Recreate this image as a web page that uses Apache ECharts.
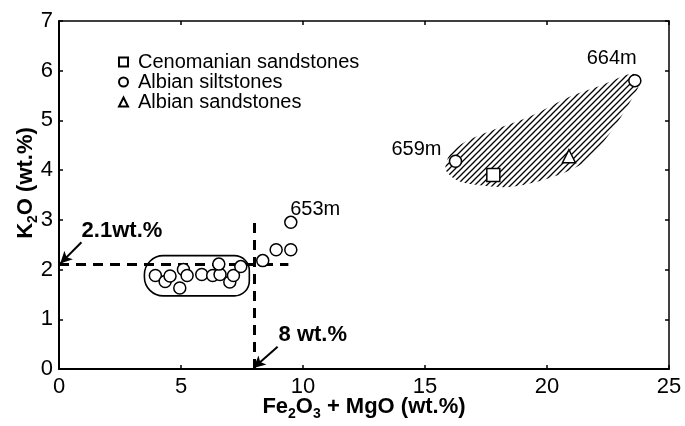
<!DOCTYPE html>
<html><head><meta charset="utf-8">
<script src="https://cdn.jsdelivr.net/npm/echarts@6/dist/echarts.min.js"></script>
<style>html,body{margin:0;padding:0;background:#fff}#c{width:685px;height:426px}</style>
</head><body><div id="c"></div>
<script>
// ---- data ----
const xTicks = [0, 5, 10, 15, 20, 25];
const yTicks = [0, 1, 2, 3, 4, 5, 6, 7];
const cenomanianSandstones = [[17.8, 3.9]];
const albianSiltstones = [
  [3.95, 1.88], [4.35, 1.76], [4.55, 1.87], [5.1, 2.0], [4.95, 1.63], [5.25, 1.88],
  [5.85, 1.9], [6.3, 1.88], [6.6, 1.9], [6.55, 2.11], [7.0, 1.75], [7.15, 1.88], [7.45, 2.06],
  [8.35, 2.18], [8.9, 2.4], [9.5, 2.4], [9.5, 2.95],
  [16.25, 4.18], [23.6, 5.8]
];
const albianSandstones = [[20.9, 4.28]];
const hatchOutline = [
  [15.85, 4.01], [16.3, 3.8], [16.85, 3.72], [18.45, 3.66], [20.1, 3.84], [21.6, 4.18],
  [22.55, 4.72], [23.5, 5.45], [23.85, 5.85], [23.45, 5.94], [22.3, 5.72], [20.95, 5.48],
  [19.3, 5.08], [17.65, 4.78], [16.55, 4.54], [16.0, 4.3]
];
const clusterBox = [[3.5, 1.47], [7.8, 2.28]];
const guideK2O = 2.1, guideK2OEnd = 9.4;
const guideFeMg = 8, guideFeMgEnd = 2.95;
const sampleLabels = ['653m', '659m', '664m'];
const sampleLabelAt = [[10.5, 3.2], [14.65, 4.42], [22.65, 6.24]];
const guideLabels = ['2.1wt.%', '8 wt.%'];
const guideLabelAt = [[2.58, 2.78], [10.4, 0.68]];
const arrows = [[[0.92, 2.55], [0.05, 2.12]], [[8.96, 0.45], [7.97, 0.02]]];

// ---- chart ----
const FONT = 'Liberation Sans';
const chart = echarts.init(document.getElementById('c'), null, {renderer: 'canvas'});

const T = 6;
const pc = document.createElement('canvas');
pc.width = T; pc.height = T;
const g = pc.getContext('2d');
g.fillStyle = '#fff'; g.fillRect(0, 0, T, T);
g.strokeStyle = '#000'; g.lineWidth = 1.3;
g.beginPath();
g.moveTo(-1, T + 1); g.lineTo(T + 1, -1);
g.moveTo(-1, 1); g.lineTo(1, -1);
g.moveTo(T - 1, T + 1); g.lineTo(T + 1, T - 1);
g.stroke();

const axisBase = {
  type: 'value',
  axisLine: {show: true, onZero: false, lineStyle: {color: '#000', width: 2}},
  axisTick: {show: true, inside: true, length: 4, lineStyle: {color: '#000', width: 1.5}},
  splitLine: {show: false}
};
const symStyle = {color: '#fff', borderColor: '#000', borderWidth: 1.5, opacity: 1};
const subRich = {s: {fontFamily: FONT, fontWeight: 'bold', fontSize: 14, color: '#000', verticalAlign: 'top', padding: [15, 0, 0, 0]}};

chart.setOption({
  animation: false,
  backgroundColor: '#fff',
  grid: {left: 59, right: 16, top: 21, bottom: 57, containLabel: false, outerBoundsMode: 'none'},
  legend: {
    orient: 'vertical', left: 118, top: 52, padding: 0, itemGap: 0,
    itemWidth: 9, itemHeight: 9,
    data: ['Cenomanian sandstones', 'Albian siltstones', 'Albian sandstones'],
    textStyle: {fontFamily: FONT, fontSize: 20, color: '#000', lineHeight: 20, padding: [0, 0, 0, 5]}
  },
  xAxis: [
    Object.assign({}, axisBase, {
      min: 0, max: 25, interval: 5, position: 'bottom',
      axisLabel: {color: '#000', fontSize: 22, fontFamily: FONT, margin: 7},
      name: 'Fe{s|2}O{s|3} + MgO (wt.%)', nameLocation: 'middle', nameGap: 23, nameMoveOverlap: false,
      nameTextStyle: {color: '#000', fontFamily: FONT, fontWeight: 'bold', fontSize: 22, rich: subRich}
    }),
    Object.assign({}, axisBase, {
      min: 0, max: 25, interval: 5, position: 'top',
      axisLine: {show: true, onZero: false, lineStyle: {color: '#000', width: 1.5}},
      axisLabel: {show: false}
    })
  ],
  yAxis: [
    Object.assign({}, axisBase, {
      min: 0, max: 7, interval: 1, position: 'left',
      axisLabel: {color: '#000', fontSize: 22, fontFamily: FONT, margin: 6},
      name: 'K{s|2}O (wt.%)', nameLocation: 'middle', nameGap: 19, nameMoveOverlap: false,
      nameTextStyle: {color: '#000', fontFamily: FONT, fontWeight: 'bold', fontSize: 22, padding: [0, 0, 0, 24], rich: subRich}
    }),
    Object.assign({}, axisBase, {
      min: 0, max: 7, interval: 1, position: 'right',
      axisLine: {show: true, onZero: false, lineStyle: {color: '#000', width: 1.5}},
      axisLabel: {show: false}
    })
  ],
  series: [
    {
      type: 'custom', name: 'hatch', z: 1, silent: true,
      data: [[hatchOutline[0][0], hatchOutline[0][1]]],
      renderItem: function (params, api) {
        return {
          type: 'polygon',
          shape: {points: hatchOutline.map(p => api.coord(p)), smooth: 0.3},
          style: {fill: {image: pc, repeat: 'repeat'}, stroke: null}
        };
      }
    },
    {
      type: 'custom', name: 'cluster', z: 2, silent: true,
      data: [[clusterBox[0][0], clusterBox[0][1]]],
      renderItem: function (params, api) {
        const a = api.coord([clusterBox[0][0], clusterBox[1][1]]);
        const b = api.coord([clusterBox[1][0], clusterBox[0][1]]);
        return {
          type: 'rect',
          shape: {x: a[0], y: a[1], width: b[0] - a[0], height: b[1] - a[1], r: [19, 15, 15, 19]},
          style: {fill: null, stroke: '#000', lineWidth: 1.6}
        };
      }
    },
    {
      type: 'scatter', name: 'guides', z: 3, data: [], silent: true,
      markLine: {
        silent: true, animation: false, symbol: ['none', 'none'],
        label: {show: false},
        lineStyle: {color: '#000', width: 3, type: [10, 7], opacity: 1},
        data: [
          [{coord: [0, guideK2O]}, {coord: [guideK2OEnd, guideK2O]}],
          [{coord: [guideFeMg, 0]}, {coord: [guideFeMg, guideFeMgEnd]}]
        ]
      }
    },
    {
      type: 'scatter', name: 'arrows', z: 3, data: [], silent: true,
      markLine: {
        silent: true, animation: false, symbol: ['none', 'arrow'], symbolSize: [9, 12],
        label: {show: false},
        itemStyle: {color: '#000', opacity: 1},
        lineStyle: {color: '#000', width: 2, type: 'solid', opacity: 1},
        data: arrows.map(a => [{coord: a[0]}, {coord: a[1]}])
      }
    },
    {
      type: 'scatter', name: 'Cenomanian sandstones', z: 5, symbol: 'rect', symbolSize: 13,
      itemStyle: symStyle, data: cenomanianSandstones
    },
    {
      type: 'scatter', name: 'Albian siltstones', z: 5, symbol: 'circle', symbolSize: 12,
      itemStyle: symStyle, data: albianSiltstones
    },
    {
      type: 'scatter', name: 'Albian sandstones', z: 5, symbol: 'triangle', symbolSize: 13,
      itemStyle: symStyle, data: albianSandstones
    },
    {
      type: 'scatter', name: 'sampleText', z: 6, symbolSize: 0, silent: true,
      itemStyle: {opacity: 1},
      data: sampleLabels.map((t, i) => ({name: t, value: sampleLabelAt[i]})),
      label: {show: true, position: 'inside', formatter: '{b}', color: '#000', opacity: 1, fontFamily: FONT, fontSize: 20}
    },
    {
      type: 'scatter', name: 'guideText', z: 6, symbolSize: 0, silent: true,
      itemStyle: {opacity: 1},
      data: guideLabels.map((t, i) => ({name: t, value: guideLabelAt[i]})),
      label: {show: true, position: 'inside', formatter: '{b}', color: '#000', opacity: 1, fontFamily: FONT, fontSize: 22, fontWeight: 'bold'}
    }
  ]
});
</script>
</body></html>
